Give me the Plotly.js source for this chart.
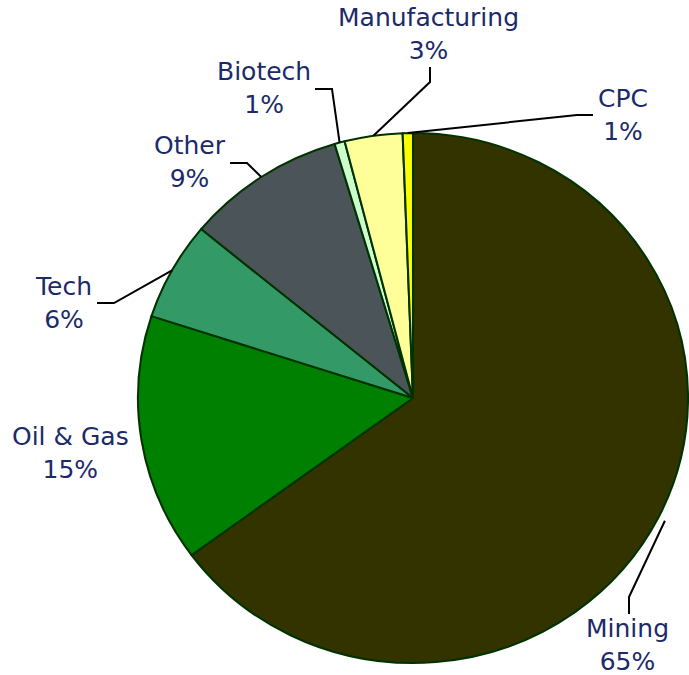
<!DOCTYPE html>
<html>
<head>
<meta charset="utf-8">
<script src="https://cdn.plot.ly/plotly-3.0.1.min.js"></script>
<style>html,body{margin:0;padding:0;background:#fff;}#chart{width:689px;height:675px;}</style>
</head>
<body>
<div id="chart"></div>
<script>
// Data (clockwise from 12 o'clock)
const categories = ["Mining", "Oil & Gas", "Tech", "Other", "Biotech", "Manufacturing", "CPC"];
const shares = [64.9, 15.1, 6.0, 9.4, 0.6, 3.4, 0.6];
const colors = ["#333300", "#008000", "#339966", "#4a5459", "#ccffcc", "#ffff99", "#ffff00"];

// Layout geometry (pixels)
const W = 689, H = 675;
const CX = 413, CY = 398, R = 265, SX = 275 / 265;
// label centres and leader elbows (layout only)
const labelPos = {
  "Mining": [627, 645],
  "Oil & Gas": [70, 453],
  "Tech": [63, 303],
  "Other": [190, 162],
  "Biotech": [264, 88],
  "Manufacturing": [428, 34],
  "CPC": [623, 115]
};
const leaderPath = {
  "Mining": [[629, 597], [629, 614]],
  "Tech": [[114, 303], [97, 303]],
  "Other": [[247, 163], [230, 163]],
  "Biotech": [[332, 89], [315, 89]],
  "Manufacturing": [[430, 82], [430, 67]],
  "CPC": [[577, 115], [593, 115]]
};

const px = (x) => x / W;
const py = (y) => 1 - y / H;

const total = shares.reduce((a, b) => a + b, 0);
const annotations = [];
const shapes = [];
let cum = 0;
categories.forEach((c, i) => {
  const frac = shares[i] / total;
  const mid = (cum + frac / 2) * 2 * Math.PI;
  cum += frac;
  const pct = Math.round(frac * 100);
  const lp = labelPos[c];
  annotations.push({
    x: px(lp[0]), y: py(lp[1]), xref: "paper", yref: "paper",
    xanchor: "center", yanchor: "middle", showarrow: false,
    text: c + "<br>" + pct + "%", align: "center",
    font: {family: "DejaVu Sans, Verdana, sans-serif", size: 25, color: "#1c2a6a"}
  });
  if (leaderPath[c]) {
    const gap = c === "Mining" ? 7 : 0;
    const ex = CX + (R + gap) * SX * Math.sin(mid);
    const ey = CY - (R + gap) * Math.cos(mid);
    const pts = [[ex, ey]].concat(leaderPath[c]);
    const d = pts.map((p, k) => (k ? "L" : "M") + px(p[0]).toFixed(5) + "," + py(p[1]).toFixed(5)).join(" ");
    shapes.push({type: "path", xref: "paper", yref: "paper", path: d,
      line: {color: "#000000", width: 2}});
  }
});

const trace = {
  type: "pie",
  labels: categories,
  values: shares,
  sort: false,
  direction: "clockwise",
  rotation: 0,
  textinfo: "none",
  hoverinfo: "label+percent",
  marker: {colors: colors, line: {color: "#003300", width: 2}},
  domain: {x: [px(CX - R), px(CX + R)], y: [py(CY + R), py(CY - R)]},
  showlegend: false
};

const layout = {
  width: W, height: H,
  margin: {l: 0, r: 0, t: 0, b: 0},
  paper_bgcolor: "#ffffff",
  showlegend: false,
  annotations: annotations,
  shapes: shapes
};

Plotly.newPlot("chart", [trace], layout, {displayModeBar: false, staticPlot: true}).then(function () {
  // the reference pie is slightly wider than tall: stretch the pie layer horizontally about its centre
  const g = document.querySelector("#chart .pielayer");
  if (g) {
    g.setAttribute("transform", "translate(" + CX + ",0) scale(" + SX + ",1) translate(" + (-CX) + ",0)");
  }
});
</script>
</body>
</html>
